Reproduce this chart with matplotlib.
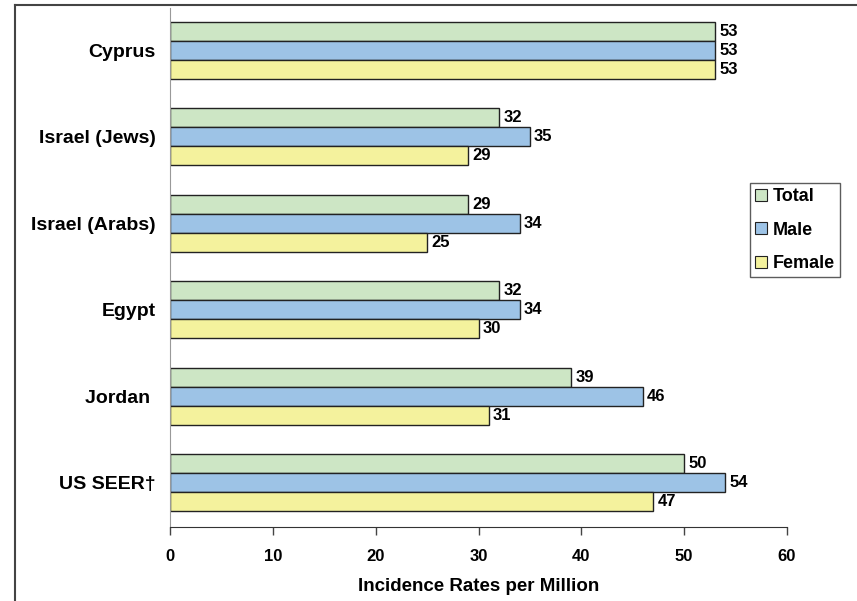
import numpy as np
import matplotlib.pyplot as plt
from matplotlib.lines import Line2D

plt.rcParams['font.family'] = ['Liberation Sans Narrow', 'Liberation Sans', 'DejaVu Sans']
plt.rcParams['font.weight'] = 'bold'

# data, top to bottom as shown
countries = ['Cyprus', 'Israel (Jews)', 'Israel (Arabs)', 'Egypt', 'Jordan ', 'US SEER†']
total = [53, 32, 29, 32, 39, 50]
male = [53, 35, 34, 34, 46, 54]
female = [53, 29, 25, 30, 31, 47]

series = [('Total', total, '#cde6c5'), ('Male', male, '#9dc3e6'), ('Female', female, '#f4f29d')]

fig = plt.figure(figsize=(8.57, 6.01), dpi=100)
ax = fig.add_axes([170/857, 1 - 527/601, (787 - 170)/857, (527 - 8)/601])

n = len(countries)
y = np.arange(n)[::-1]
h = 0.22
for k, (name, vals, col) in enumerate(series):
    pos = y + h * (1 - k)
    ax.barh(pos, vals, height=h, color=col, edgecolor='#222222', linewidth=1.0, label=name)
    for p, v in zip(pos, vals):
        ax.text(v + 0.4, p, str(v), va='center', ha='left', fontsize=12, fontweight='bold')

ax.set_xlim(0, 60)
ax.set_ylim(-0.51, 5.49)
ax.set_xticks(np.arange(0, 61, 10))
ax.set_yticks(y)
ax.set_yticklabels(countries, fontsize=14, fontweight='bold')
ax.tick_params(axis='y', length=0, pad=10.5)
ax.tick_params(axis='x', direction='out', length=6, width=1, color='#444444', labelsize=12, pad=10)
ax.set_xlabel('Incidence Rates per Million', fontsize=13.5, fontweight='bold', labelpad=10)

for s in ['top', 'right']:
    ax.spines[s].set_visible(False)
ax.spines['left'].set_color('#999999')
ax.spines['bottom'].set_color('#333333')

handles = [plt.Rectangle((0, 0), 1, 1, facecolor=c, edgecolor='#222222', linewidth=0.8) for _, _, c in series]
leg = fig.legend(handles, [s[0] for s in series], loc='upper left',
                 bbox_to_anchor=(750/857, 1 - 183/601), frameon=True, fancybox=False,
                 prop={'size': 13, 'weight': 'bold'}, handlelength=0.65, handleheight=0.65,
                 handletextpad=0.3, labelspacing=0.9, borderpad=0.3, borderaxespad=0)
leg.get_frame().set_edgecolor('#333333')
leg.get_frame().set_linewidth(1.0)

# outer frame lines (left and top)
fig.add_artist(Line2D([15/857, 15/857], [0, 1 - 5/601], color='#444444', linewidth=1.5))
fig.add_artist(Line2D([15/857, 1], [1 - 5/601, 1 - 5/601], color='#444444', linewidth=1.5))

fig.savefig('out.png', dpi=100)
